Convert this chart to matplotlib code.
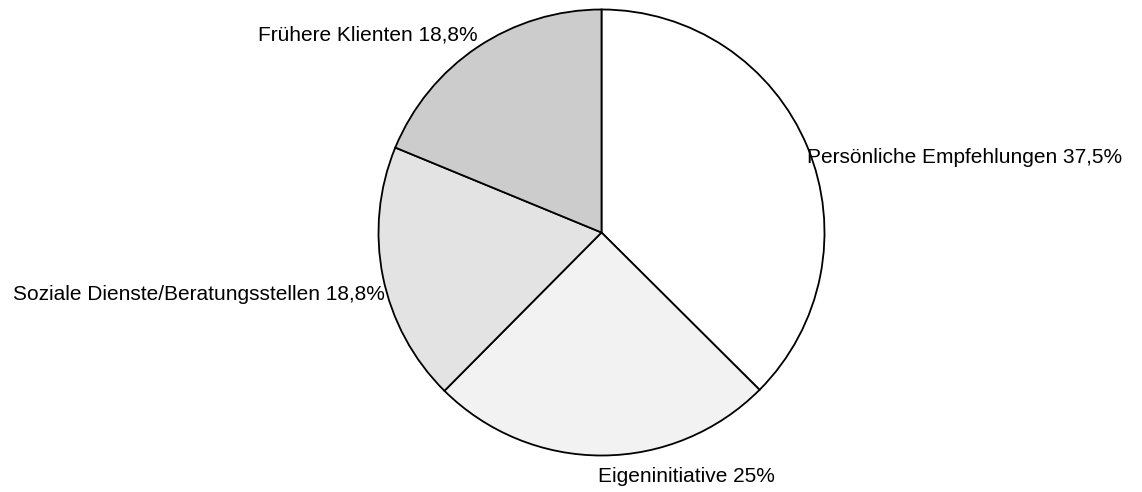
import matplotlib
matplotlib.use("Agg")
import numpy as np
import matplotlib.pyplot as plt

# Data
categories = ["Persönliche Empfehlungen", "Eigeninitiative",
              "Soziale Dienste/Beratungsstellen", "Frühere Klienten"]
shares = [37.5, 25.0, 18.8, 18.8]

# Style
colors = ["#ffffff", "#f2f2f2", "#e3e3e3", "#cccccc"]
label_align = [("left", "top"), ("left", "top"), ("right", "top"), ("right", "baseline")]
label_offset = [(0, -1), (-4, -12), (2, -8), (0, 7)]


def fmt_pct(v):
    s = f"{v:.1f}".replace(".", ",")
    if s.endswith(",0"):
        s = s[:-2]
    return s + "%"


plt.rcParams["font.family"] = ["Liberation Sans", "DejaVu Sans"]

W, H, DPI = 1142, 492, 100
fig = plt.figure(figsize=(W / DPI, H / DPI), dpi=DPI)
ax = fig.add_axes([0, 0, 1, 1])

wedges, _ = ax.pie(shares, colors=colors, startangle=90, counterclock=False,
                   wedgeprops=dict(edgecolor="black", linewidth=1.3))

# pie centre and radius in pixels
cx, cy, r = 601.5, 232.5, 223.0
ax.set_xlim(-cx / r, (W - cx) / r)
ax.set_ylim(-(H - cy) / r, cy / r)
ax.set_aspect("auto")
ax.axis("off")

for w, cat, val, (ha, va), off in zip(wedges, categories, shares, label_align, label_offset):
    ang = np.deg2rad((w.theta1 + w.theta2) / 2)
    x, y = np.cos(ang), np.sin(ang)
    ax.annotate(f"{cat} {fmt_pct(val)}", xy=(x, y), xytext=off,
                textcoords="offset pixels", ha=ha, va=va, fontsize=15, color="black")

fig.savefig("out.png", dpi=DPI, facecolor="white")
